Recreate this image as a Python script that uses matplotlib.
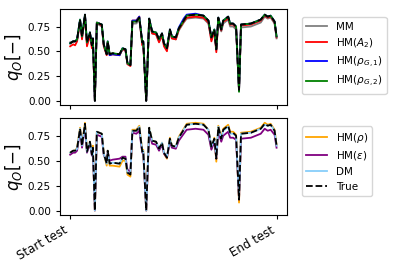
import matplotlib
matplotlib.use('Agg')
import matplotlib.pyplot as plt

# sample index along the test
t = [0, 3, 5, 7, 10, 12, 15, 17, 20, 22, 23, 25, 27, 32, 34, 37, 38, 40, 43, 50,
     53, 56, 58, 61, 63, 67, 70, 73, 74, 77, 80, 83, 87, 90, 93, 95, 98, 101, 103, 107,
     110, 115, 118, 127, 135, 140, 143, 146, 148, 150, 153, 155, 160, 162, 165, 168, 171, 173, 183, 188,
     193, 197, 200, 203, 207, 209]

q_true = [0.58, 0.60, 0.60, 0.62, 0.82, 0.65, 0.87, 0.59, 0.69, 0.56, 0.63, 0.00, 0.79, 0.77, 0.57, 0.47, 0.60, 0.47, 0.48, 0.47,
          0.53, 0.52, 0.38, 0.36, 0.80, 0.80, 0.84, 0.59, 0.60, 0.00, 0.83, 0.70, 0.69, 0.62, 0.68, 0.58, 0.53, 0.72, 0.65, 0.64,
          0.73, 0.81, 0.86, 0.87, 0.86, 0.81, 0.64, 0.72, 0.52, 0.84, 0.72, 0.81, 0.85, 0.78, 0.78, 0.75, 0.11, 0.77, 0.78, 0.80,
          0.82, 0.87, 0.85, 0.86, 0.80, 0.65]

q_mm = [0.59, 0.60, 0.60, 0.62, 0.80, 0.64, 0.85, 0.58, 0.68, 0.56, 0.62, 0.00, 0.78, 0.75, 0.56, 0.47, 0.59, 0.47, 0.47, 0.46,
        0.52, 0.51, 0.37, 0.36, 0.78, 0.78, 0.82, 0.58, 0.59, 0.00, 0.81, 0.68, 0.67, 0.60, 0.66, 0.57, 0.52, 0.70, 0.63, 0.62,
        0.71, 0.79, 0.83, 0.84, 0.83, 0.78, 0.62, 0.70, 0.51, 0.82, 0.70, 0.78, 0.82, 0.75, 0.75, 0.72, 0.10, 0.74, 0.75, 0.77,
        0.79, 0.85, 0.83, 0.84, 0.78, 0.63]

q_a2 = [0.55, 0.57, 0.56, 0.60, 0.80, 0.62, 0.86, 0.55, 0.66, 0.53, 0.60, 0.00, 0.79, 0.76, 0.55, 0.46, 0.59, 0.46, 0.47, 0.46,
        0.52, 0.51, 0.37, 0.35, 0.81, 0.81, 0.85, 0.56, 0.57, 0.00, 0.82, 0.68, 0.67, 0.59, 0.66, 0.55, 0.50, 0.71, 0.63, 0.62,
        0.72, 0.80, 0.84, 0.85, 0.84, 0.79, 0.60, 0.70, 0.49, 0.83, 0.71, 0.80, 0.83, 0.77, 0.77, 0.74, 0.10, 0.76, 0.77, 0.79,
        0.81, 0.86, 0.84, 0.85, 0.79, 0.64]

q_g1 = [0.58, 0.60, 0.60, 0.62, 0.82, 0.65, 0.87, 0.59, 0.69, 0.56, 0.63, 0.00, 0.79, 0.77, 0.57, 0.47, 0.60, 0.46, 0.47, 0.46,
        0.53, 0.52, 0.38, 0.36, 0.81, 0.81, 0.85, 0.59, 0.60, 0.00, 0.83, 0.70, 0.69, 0.62, 0.68, 0.58, 0.53, 0.72, 0.65, 0.64,
        0.74, 0.83, 0.87, 0.88, 0.86, 0.81, 0.64, 0.72, 0.52, 0.84, 0.72, 0.81, 0.85, 0.78, 0.78, 0.75, 0.10, 0.77, 0.78, 0.80,
        0.82, 0.87, 0.85, 0.86, 0.80, 0.65]

q_g2 = [0.58, 0.60, 0.60, 0.62, 0.82, 0.65, 0.87, 0.59, 0.69, 0.56, 0.63, 0.00, 0.79, 0.77, 0.57, 0.47, 0.60, 0.47, 0.48, 0.47,
        0.53, 0.52, 0.38, 0.36, 0.80, 0.80, 0.84, 0.59, 0.60, 0.00, 0.83, 0.70, 0.69, 0.62, 0.68, 0.58, 0.53, 0.72, 0.65, 0.64,
        0.73, 0.81, 0.86, 0.87, 0.86, 0.81, 0.64, 0.72, 0.52, 0.84, 0.72, 0.81, 0.85, 0.78, 0.78, 0.75, 0.09, 0.77, 0.78, 0.80,
        0.82, 0.87, 0.85, 0.86, 0.80, 0.65]

q_rho = [0.58, 0.60, 0.60, 0.63, 0.83, 0.66, 0.88, 0.60, 0.69, 0.57, 0.65, 0.00, 0.79, 0.77, 0.58, 0.45, 0.60, 0.45, 0.45, 0.44,
         0.50, 0.50, 0.36, 0.34, 0.81, 0.81, 0.85, 0.60, 0.61, 0.00, 0.83, 0.70, 0.69, 0.61, 0.68, 0.57, 0.52, 0.73, 0.65, 0.64,
         0.74, 0.82, 0.87, 0.88, 0.87, 0.81, 0.62, 0.73, 0.49, 0.85, 0.73, 0.82, 0.86, 0.79, 0.79, 0.76, 0.08, 0.78, 0.79, 0.81,
         0.83, 0.88, 0.86, 0.87, 0.81, 0.66]

q_eps = [0.56, 0.58, 0.58, 0.60, 0.80, 0.63, 0.84, 0.58, 0.67, 0.55, 0.61, 0.00, 0.76, 0.74, 0.56, 0.49, 0.59, 0.50, 0.51, 0.52,
         0.54, 0.54, 0.41, 0.39, 0.78, 0.77, 0.80, 0.58, 0.58, 0.00, 0.79, 0.67, 0.66, 0.60, 0.66, 0.57, 0.53, 0.69, 0.63, 0.62,
         0.70, 0.77, 0.81, 0.82, 0.81, 0.76, 0.61, 0.69, 0.52, 0.79, 0.69, 0.75, 0.79, 0.73, 0.73, 0.71, 0.11, 0.72, 0.73, 0.75,
         0.77, 0.82, 0.80, 0.81, 0.76, 0.63]

q_dm = [0.58, 0.60, 0.60, 0.62, 0.82, 0.65, 0.86, 0.59, 0.69, 0.56, 0.63, 0.00, 0.79, 0.77, 0.57, 0.47, 0.60, 0.47, 0.48, 0.47,
        0.53, 0.52, 0.38, 0.37, 0.80, 0.80, 0.84, 0.59, 0.60, 0.00, 0.83, 0.70, 0.69, 0.62, 0.68, 0.58, 0.54, 0.72, 0.65, 0.64,
        0.73, 0.81, 0.86, 0.87, 0.86, 0.81, 0.64, 0.72, 0.53, 0.84, 0.72, 0.80, 0.84, 0.77, 0.77, 0.75, 0.12, 0.77, 0.78, 0.80,
        0.82, 0.86, 0.85, 0.86, 0.80, 0.65]

tick_labels = ['Start test', 'End test']

fig = plt.figure(figsize=(3.99, 2.66), dpi=100)
ax1 = fig.add_axes([0.150, 0.605, 0.569, 0.36])
ax2 = fig.add_axes([0.150, 0.192, 0.569, 0.363])

lw = 1.3
ax1.plot(t, q_mm, color='gray', lw=lw, label='MM')
ax1.plot(t, q_a2, color='red', lw=lw, label='HM($A_2$)')
ax1.plot(t, q_g1, color='blue', lw=lw, label=r'HM($\rho_{G,1}$)')
ax1.plot(t, q_g2, color='green', lw=lw, label=r'HM($\rho_{G,2}$)')
ax1.plot(t, q_true, 'k--', lw=lw)

ax2.plot(t, q_rho, color='orange', lw=lw, label=r'HM($\rho$)')
ax2.plot(t, q_eps, color='purple', lw=lw, label=r'HM($\epsilon$)')
ax2.plot(t, q_dm, color='lightskyblue', lw=lw, label='DM')
ax2.plot(t, q_true, 'k--', lw=lw, label='True')

for ax in (ax1, ax2):
    ax.set_yticks([0.0, 0.25, 0.5, 0.75])
    ax.tick_params(labelsize=7.5, length=3)
    ax.set_xticks([t[0], t[-1]])
    ax.set_ylabel(r'$q_O[-]$', fontsize=12, labelpad=2)
    ax.legend(loc='upper left', bbox_to_anchor=(1.045, 0.97), fontsize=7.5,
              handlelength=2.0, labelspacing=0.45)

ax1.set_xticklabels([])
ax2.set_xticklabels(tick_labels, rotation=30, ha='right', fontsize=8.5)

fig.savefig('out.png', dpi=100)
